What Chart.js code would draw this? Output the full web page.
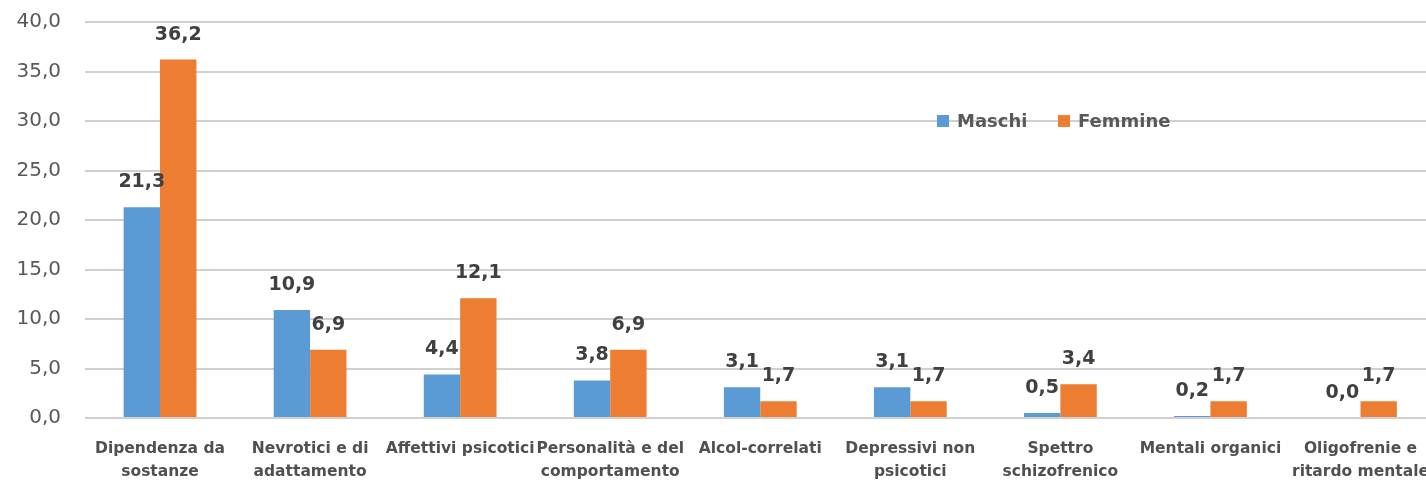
<!DOCTYPE html>
<html>
<head>
<meta charset="utf-8">
<script src="https://cdn.jsdelivr.net/npm/chart.js@4/dist/chart.umd.min.js"></script>
<style>
    html, body { margin: 0; padding: 0; background: #fff; overflow: hidden; }
    #wrap { position: relative; width: 1440px; height: 481px; }
</style>
</head>
<body>
<div id="wrap"><canvas id="diagChart"></canvas></div>
<script>
// Chart data
const categories = [
    ['Dipendenza da', 'sostanze'],
    ['Nevrotici e di', 'adattamento'],
    'Affettivi psicotici',
    ['Personalità e del', 'comportamento'],
    'Alcol-correlati',
    ['Depressivi non', 'psicotici'],
    ['Spettro', 'schizofrenico'],
    'Mentali organici',
    ['Oligofrenie e', 'ritardo mentale']
];
const seriesNames = ['Maschi', 'Femmine'];
const maschi = [21.3, 10.9, 4.4, 3.8, 3.1, 3.1, 0.5, 0.2, 0.0];
const femmine = [36.2, 6.9, 12.1, 6.9, 1.7, 1.7, 3.4, 1.7, 1.7];
const yTicks = [0, 5, 10, 15, 20, 25, 30, 35, 40];

const colors = ['#5B9BD5', '#ED7D31'];
const fmt = v => Number(v).toFixed(1).replace('.', ',');

// Value labels above each bar
const valueLabels = {
    id: 'valueLabels',
    afterDatasetsDraw(chart) {
        const ctx = chart.ctx;
        ctx.save();
        ctx.font = 'bold 19px "DejaVu Sans"';
        ctx.fillStyle = '#404040';
        ctx.textAlign = 'center';
        ctx.textBaseline = 'middle';
        chart.data.datasets.forEach((ds, i) => {
            const meta = chart.getDatasetMeta(i);
            meta.data.forEach((bar, j) => {
                ctx.fillText(fmt(ds.data[j]), bar.x, bar.y - 25);
            });
        });
        ctx.restore();
    }
};

// Legend drawn inside the plot area
const innerLegend = {
    id: 'innerLegend',
    afterDraw(chart) {
        const ctx = chart.ctx;
        const area = chart.chartArea;
        const y = chart.scales.y.getPixelForValue(30);
        let x = area.left + 852;
        ctx.save();
        ctx.font = 'bold 18px "DejaVu Sans"';
        ctx.textBaseline = 'middle';
        chart.data.datasets.forEach((ds, i) => {
            ctx.fillStyle = ds.backgroundColor;
            ctx.fillRect(x, y - 6, 12, 12);
            ctx.fillStyle = '#595959';
            ctx.fillText(ds.label, x + 20, y + 1);
            x += 121;
        });
        ctx.restore();
    }
};

new Chart(document.getElementById('diagChart'), {
    type: 'bar',
    data: {
        labels: categories,
        datasets: [
            {
                label: seriesNames[0],
                data: maschi,
                backgroundColor: colors[0],
                categoryPercentage: 0.485,
                barPercentage: 1.0
            },
            {
                label: seriesNames[1],
                data: femmine,
                backgroundColor: colors[1],
                categoryPercentage: 0.485,
                barPercentage: 1.0
            }
        ]
    },
    options: {
        responsive: true,
        maintainAspectRatio: false,
        animation: false,
        layout: {
            padding: { top: 22, left: 0, right: 0, bottom: 0 }
        },
        plugins: {
            legend: { display: false },
            tooltip: { enabled: false }
        },
        scales: {
            x: {
                grid: { display: false },
                border: { display: false },
                ticks: {
                    autoSkip: false,
                    maxRotation: 0,
                    minRotation: 0,
                    padding: 11,
                    color: '#505050',
                    font: {
                        family: 'DejaVu Sans',
                        size: 15.5,
                        weight: 'bold',
                        lineHeight: 1.5
                    }
                },
                afterFit(scale) {
                    scale.height = 63;
                }
            },
            y: {
                min: 0,
                max: 40,
                afterBuildTicks(scale) {
                    scale.ticks = yTicks.map(v => ({ value: v }));
                },
                grid: {
                    color: '#d0d0d0',
                    lineWidth: 2,
                    drawTicks: false
                },
                border: { display: false },
                ticks: {
                    padding: 24,
                    color: '#595959',
                    font: {
                        family: 'DejaVu Sans',
                        size: 20
                    },
                    callback: function (value) {
                        return fmt(value);
                    }
                },
                afterFit(scale) {
                    scale.width = 85;
                    scale.paddingTop = 0;
                    scale.paddingBottom = 0;
                }
            }
        }
    },
    plugins: [valueLabels, innerLegend]
});
</script>
</body>
</html>
